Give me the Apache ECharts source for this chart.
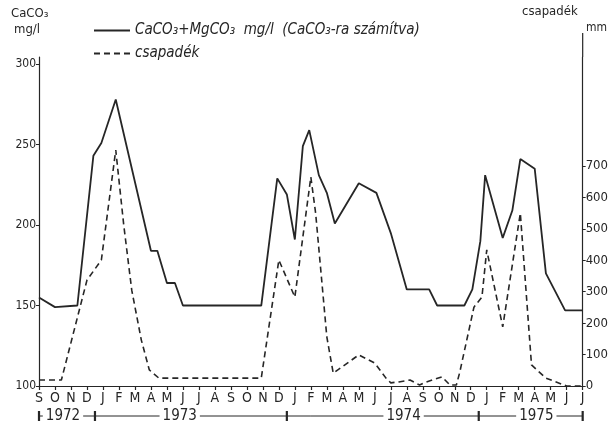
<!DOCTYPE html>
<html>
<head>
<meta charset="utf-8">
<script src="https://cdn.jsdelivr.net/npm/echarts@6/dist/echarts.min.js"></script>
<style>
  html, body { margin: 0; padding: 0; background: #fff; }
  #chart { width: 611px; height: 434px; }
</style>
</head>
<body>
<div id="chart"></div>
<script>
// honapok 1972 szept - 1975 julius
const months = ['S', 'O', 'N', 'D', 'J', 'F', 'M', 'A', 'M', 'J', 'J', 'A', 'S', 'O', 'N', 'D',
  'J', 'F', 'M', 'A', 'M', 'J', 'J', 'A', 'S', 'O', 'N', 'D', 'J', 'F', 'M', 'A', 'M', 'J', 'J']
const leftTicks = [100, 150, 200, 250, 300]
const rightTicks = [0, 100, 200, 300, 400, 500, 600, 700]
const yearLabels = ['1972', '1973', '1974', '1975']
const yearBounds = [0, 3.5, 15.5, 27.5, 34]
const yearLabelPos = [1.5, 8.8, 22.8, 31.1]

// CaCO3+MgCO3 mg/l
const caMonth = [0, 1, 2.4, 3.4, 3.9, 4.8, 7.0, 7.4, 8.0, 8.5, 9.0, 13.9, 14.9, 15.5, 16.0, 16.5, 16.9,
  17.5, 18.0, 18.5, 20.0, 21.1, 22.0, 23.0, 24.4, 24.9, 26.6, 27.1, 27.6, 27.9, 29.0, 29.6, 30.1,
  31.0, 31.7, 32.9, 34]
const caValue = [155, 149, 150, 243, 251, 278, 184, 184, 164, 164, 150, 150, 229, 219, 191, 249, 259,
  231, 220, 201, 226, 220, 195, 160, 160, 150, 150, 160, 190, 231, 192, 209, 241,
  235, 170, 147, 147]

// csapadek mm
const rainMonth = [0, 1.4, 3.0, 3.9, 4.8, 5.3, 5.8, 6.4, 6.9, 7.5, 13.9, 15.0, 16.0, 17.0, 17.3,
  18.0, 18.4, 20.0, 21.0, 21.7, 22.0, 22.5, 23.2, 23.8, 24.1, 24.6, 25.2, 25.7, 26.1, 26.3,
  27.2, 27.7, 28.0, 29.0, 30.1, 30.8, 31.7, 33.0, 34]
const rainValue = [19, 19, 337, 401, 751, 512, 305, 146, 51, 25, 25, 401, 283, 665, 550,
  156, 41, 99, 73, 25, 10, 13, 19, 3, 10, 19, 29, 3, 3, 41,
  251, 283, 433, 188, 550, 67, 25, 0, 0]

const ink = '#262626'
const font = '"DejaVu Sans Condensed", "DejaVu Sans", sans-serif'

const chart = echarts.init(document.getElementById('chart'))

let option = {
  backgroundColor: '#fff',
  animation: false,
  grid: {
    left: 39,
    right: 28,
    top: 57,
    bottom: 48,
    containLabel: false
  },
  legend: {
    orient: 'vertical',
    left: 88,
    top: 18,
    itemWidth: 36,
    itemHeight: 14,
    itemGap: 8,
    itemStyle: { opacity: 0 },
    textStyle: {
      fontFamily: font,
      fontStyle: 'italic',
      fontSize: 15,
      color: ink
    },
    data: ['CaCO₃+MgCO₃  mg/l  (CaCO₃-ra számítva)', 'csapadék']
  },
  xAxis: {
    type: 'value',
    min: 0,
    max: 34,
    interval: 1,
    splitLine: { show: false },
    axisLine: { lineStyle: { color: ink, width: 1.2 } },
    axisTick: { length: 4, lineStyle: { color: ink, width: 1.2 } },
    axisLabel: {
      margin: 5,
      fontFamily: font,
      fontSize: 14,
      color: ink,
      formatter: function(v) {
        return months[v] || ''
      }
    }
  },
  yAxis: [
    {
      type: 'value',
      min: 100,
      max: 304.4,
      splitLine: { show: false },
      axisLine: { show: true, lineStyle: { color: ink, width: 1.2 } },
      axisTick: { show: true, length: 3, customValues: leftTicks, lineStyle: { color: ink } },
      axisLabel: {
        margin: 3,
        customValues: leftTicks,
        fontFamily: font,
        fontSize: 12,
        color: ink
      }
    },
    {
      type: 'value',
      min: 0,
      max: 1047,
      position: 'right',
      splitLine: { show: false },
      axisLine: { show: true, lineStyle: { color: ink, width: 1.2 } },
      axisTick: { show: true, length: 3, customValues: rightTicks, lineStyle: { color: ink } },
      axisLabel: {
        margin: 3,
        customValues: rightTicks,
        fontFamily: font,
        fontSize: 13,
        color: ink
      }
    }
  ],
  series: [
    {
      name: 'CaCO₃+MgCO₃  mg/l  (CaCO₃-ra számítva)',
      type: 'line',
      yAxisIndex: 0,
      symbol: 'none',
      lineStyle: { color: ink, width: 1.8 },
      itemStyle: { color: ink },
      data: caMonth.map(function(m, i) { return [m, caValue[i]] })
    },
    {
      name: 'csapadék',
      type: 'line',
      yAxisIndex: 1,
      symbol: 'none',
      lineStyle: { color: ink, width: 1.6, type: [6, 4] },
      itemStyle: { color: ink },
      data: rainMonth.map(function(m, i) { return [m, rainValue[i]] })
    }
  ]
}

chart.setOption(option)

// felso feliratok es az evek sora
const xPix = function(v) { return chart.convertToPixel({ xAxisIndex: 0 }, v) }
const yBottom = chart.convertToPixel({ yAxisIndex: 0 }, 100)
const yTop = chart.convertToPixel({ yAxisIndex: 0 }, 304.4)
const rowY = yBottom + 30
const graphics = []

graphics.push({
  type: 'text', left: 11, top: 7,
  style: { text: 'CaCO₃', font: '13px ' + font, fill: ink }
})
graphics.push({
  type: 'text', left: 14, top: 23,
  style: { text: 'mg/l', font: '13px ' + font, fill: ink }
})
graphics.push({
  type: 'text', left: 522, top: 5,
  style: { text: 'csapadék', font: '13px ' + font, fill: ink }
})
graphics.push({
  type: 'text', left: 586, top: 22,
  style: { text: 'mm', font: '12px ' + font, fill: ink }
})
// jobb tengely folytatasa felfele
graphics.push({
  type: 'line',
  shape: { x1: xPix(34), y1: yTop, x2: xPix(34), y2: yTop - 24 },
  style: { stroke: ink, lineWidth: 1.2 }
})

graphics.push({
  type: 'line',
  shape: { x1: xPix(yearBounds[0]), y1: rowY, x2: xPix(yearBounds[yearBounds.length - 1]), y2: rowY },
  style: { stroke: ink, lineWidth: 1 }
})
yearBounds.forEach(function(b) {
  graphics.push({
    type: 'line',
    shape: { x1: xPix(b), y1: rowY - 5, x2: xPix(b), y2: rowY + 5 },
    style: { stroke: ink, lineWidth: 2.2 }
  })
})
yearLabels.forEach(function(lbl, i) {
  graphics.push({
    type: 'text',
    x: xPix(yearLabelPos[i]),
    y: rowY,
    style: {
      text: lbl,
      font: '15px ' + font,
      fill: ink,
      align: 'center',
      verticalAlign: 'middle',
      backgroundColor: '#fff',
      padding: [0, 3]
    }
  })
})

chart.setOption({ graphic: graphics })

window.addEventListener('resize', function() {
  chart.resize()
})
</script>
</body>
</html>
